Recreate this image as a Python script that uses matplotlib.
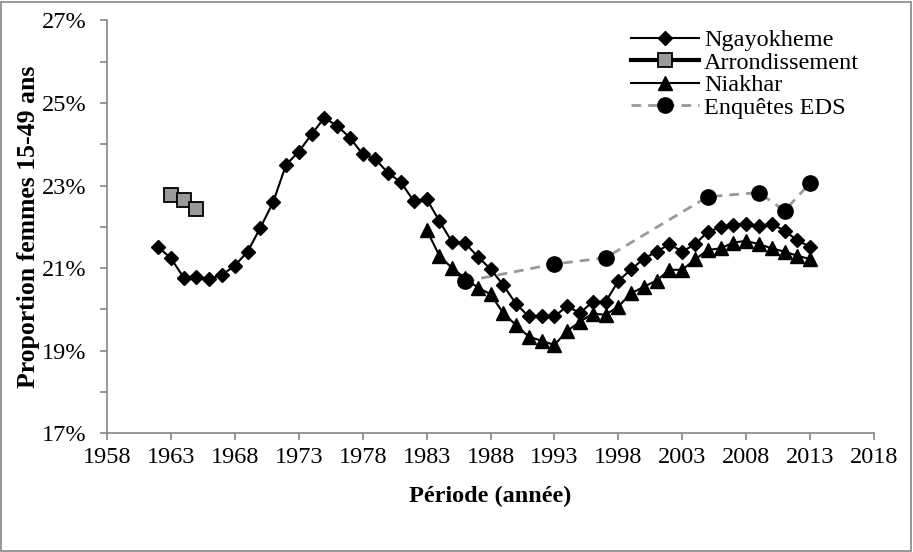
import matplotlib
matplotlib.use('Agg')
import matplotlib.pyplot as plt
from matplotlib.patches import Rectangle
from matplotlib.ticker import MultipleLocator, FixedLocator, FuncFormatter

plt.rcParams['font.family'] = ['Liberation Serif', 'DejaVu Serif']

# Ngayokheme, 1962-2013
ngay_years = list(range(1962, 2014))
ngay_vals = [21.51, 21.24, 20.77, 20.79, 20.73, 20.84, 21.06, 21.40, 21.98, 22.60,
             23.50, 23.82, 24.24, 24.64, 24.45, 24.16, 23.76, 23.64, 23.30, 23.08,
             22.62, 22.68, 22.14, 21.63, 21.61, 21.28, 20.98, 20.59, 20.13, 19.83,
             19.83, 19.83, 20.08, 19.91, 20.19, 20.18, 20.69, 20.97, 21.23, 21.40,
             21.58, 21.40, 21.58, 21.88, 21.99, 22.05, 22.06, 22.02, 22.07, 21.91,
             21.67, 21.52]

# Arrondissement
arr_years = [1963, 1964, 1965]
arr_vals = [22.76, 22.64, 22.43]

# Niakhar, 1983-2013
niak_years = list(range(1983, 2014))
niak_vals = [21.93, 21.30, 21.00, 20.76, 20.53, 20.37, 19.91, 19.62, 19.34, 19.24,
             19.14, 19.48, 19.70, 19.90, 19.87, 20.07, 20.39, 20.55, 20.70, 20.96,
             20.96, 21.21, 21.44, 21.48, 21.62, 21.66, 21.58, 21.48, 21.40, 21.30,
             21.22]

# Enquêtes EDS
eds_years = [1986, 1993, 1997, 2005, 2009, 2011, 2013]
eds_vals = [20.68, 21.10, 21.25, 22.73, 22.83, 22.39, 23.06]

x_ticks = list(range(1958, 2019, 5))

fig = plt.figure(figsize=(9.13, 5.52), dpi=100)
ax = fig.add_axes([107 / 913, 1 - 433.3 / 552, (874 - 107) / 913, (433.3 - 20.4) / 552])

ax.plot(eds_years, eds_vals, color='#999999', lw=2, ls=(0, (3.5, 2.5)),
        marker='o', ms=11, mfc='black', mec='black', zorder=2, label='Enquêtes EDS')
ax.plot(ngay_years, ngay_vals, color='black', lw=1.5, marker='D', ms=7,
        mfc='black', mec='black', zorder=3, label='Ngayokheme')
ax.plot(arr_years, arr_vals, color='black', lw=3, marker='s', ms=9.5,
        mfc='#9a9a9a', mec='black', mew=1.3, zorder=3, label='Arrondissement')
ax.plot(niak_years, niak_vals, color='black', lw=1.5, marker='^', ms=9.5,
        mfc='black', mec='black', zorder=4, label='Niakhar')

ax.set_xlim(1958, 2018)
ax.set_ylim(17, 27)
ax.xaxis.set_major_locator(FixedLocator(x_ticks))
ax.yaxis.set_major_locator(MultipleLocator(1))
ax.yaxis.set_major_formatter(FuncFormatter(lambda v, p: '%d%%' % round(v) if round(v) % 2 == 1 else ''))

axis_gray = '#868686'
for side in ['top', 'right']:
    ax.spines[side].set_visible(False)
for side in ['left', 'bottom']:
    ax.spines[side].set_color(axis_gray)
    ax.spines[side].set_linewidth(1.2)
ax.tick_params(axis='both', direction='out', length=5, width=1.2, color=axis_gray,
               labelsize=17.5, labelcolor='black')
ax.tick_params(axis='x', pad=5)
ax.tick_params(axis='y', pad=10)

ax.set_xlabel('Période (année)', fontsize=17.5, fontweight='bold', labelpad=13)
ax.set_ylabel('Proportion femmes 15-49 ans', fontsize=18.5, fontweight='bold', labelpad=1)

handles, labels = ax.get_legend_handles_labels()
order = [1, 2, 3, 0]
fig.legend([handles[i] for i in order], [labels[i] for i in order],
           loc='upper left', bbox_to_anchor=(631 / 913, 1 - 29 / 552),
           frameon=False, fontsize=17.5, handlelength=2.8, handletextpad=0.2,
           labelspacing=0.02, borderpad=0, borderaxespad=0)

fig.patches.append(Rectangle((1 / 913, 1 / 552), 910 / 913, 549 / 552,
                             transform=fig.transFigure, fill=False,
                             edgecolor=axis_gray, lw=1.2))

fig.savefig('out.png', dpi=100)
